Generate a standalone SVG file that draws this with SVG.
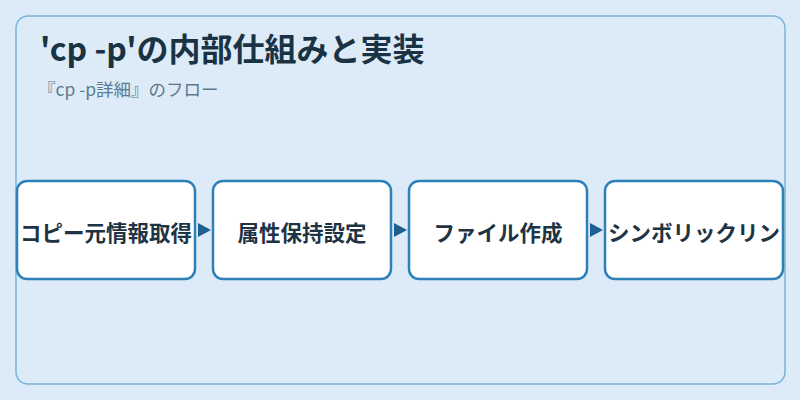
<svg xmlns="http://www.w3.org/2000/svg" width="800" height="400" viewBox="0 0 800 400">
<style>
.bg{fill:#dcebf7}
.frame{fill:#dcebf7;stroke:#7ab3d8;stroke-width:1.5}
.title{font-family:"Noto Sans CJK JP","Noto Sans",sans-serif;font-weight:700;font-size:32px;fill:#1a3344}
.sub{font-family:"Noto Sans CJK JP","Noto Sans",sans-serif;font-size:17.5px;fill:#5b7a8f}
.node rect{fill:#ffffff;stroke:#2e80b9;stroke-width:2.5}
.node text{font-family:"Noto Sans CJK JP","Noto Sans",sans-serif;font-weight:700;font-size:21.5px;fill:#1e3344;text-anchor:middle;dominant-baseline:central}
.arrow{fill:#1f5f8f}
</style>
<rect class="bg" x="0" y="0" width="800" height="400"/>
<rect class="frame" x="16" y="16" width="769" height="368" rx="12" ry="12"/>
<text class="title" x="40" y="61">'cp -p'の内部仕組みと実装</text>
<text class="sub" x="38" y="96">『cp -p詳細』のフロー</text>
<g id="connectors">
<polygon class="arrow" points="198,223 211,230 198,237"/>
<polygon class="arrow" points="394,223 407,230 394,237"/>
<polygon class="arrow" points="590,223 603,230 590,237"/>
</g>
<g id="node1" class="node">
<rect x="17" y="181" width="178" height="98" rx="10" ry="10"/>
<text x="106" y="231">コピー元情報取得</text>
</g>
<g id="node2" class="node">
<rect x="213" y="181" width="178" height="98" rx="10" ry="10"/>
<text x="302" y="231">属性保持設定</text>
</g>
<g id="node3" class="node">
<rect x="409" y="181" width="178" height="98" rx="10" ry="10"/>
<text x="498" y="231">ファイル作成</text>
</g>
<g id="node4" class="node">
<rect x="605" y="181" width="178" height="98" rx="10" ry="10"/>
<text x="694" y="231">シンボリックリン</text>
</g>
</svg>
